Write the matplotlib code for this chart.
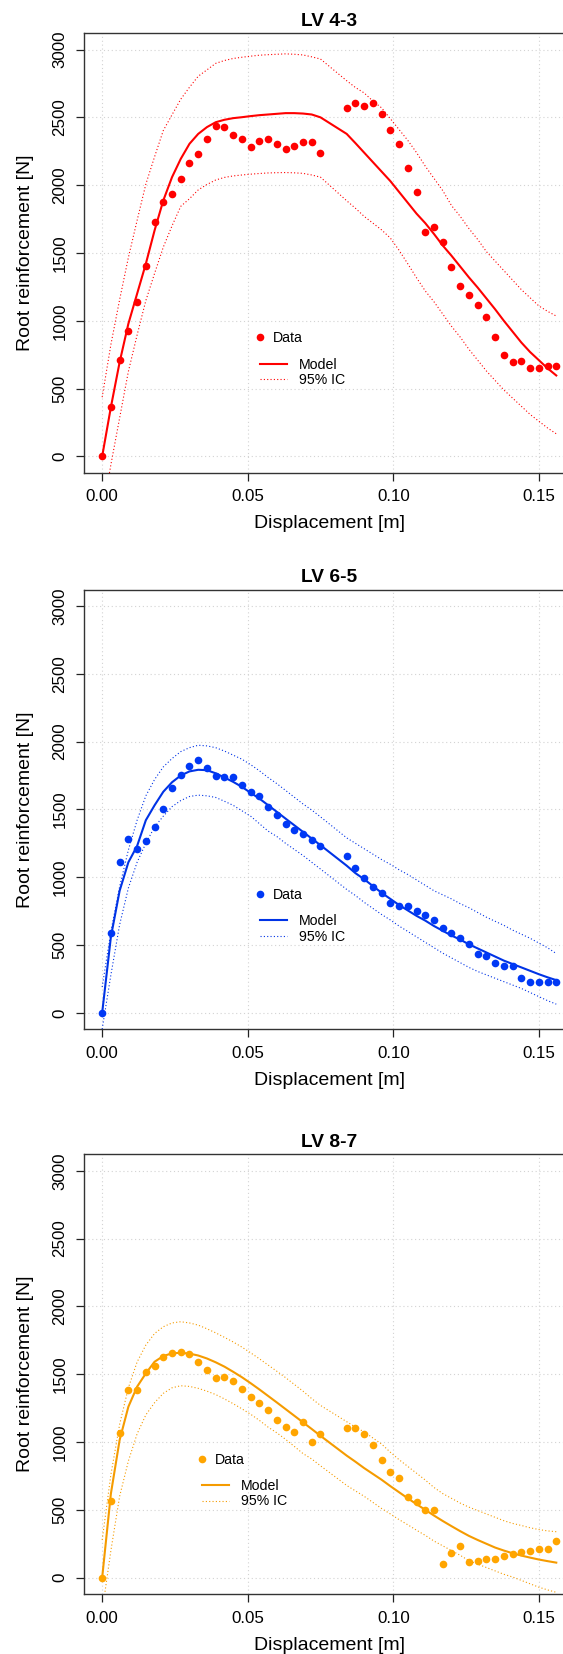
import matplotlib
matplotlib.use("Agg")
import matplotlib.pyplot as plt
from matplotlib.lines import Line2D

plt.rcParams['font.family'] = ['Liberation Sans', 'DejaVu Sans']

# displacement [m] of the measured points (same for the three tests)
disp = [0.000, 0.003, 0.006, 0.009, 0.012, 0.015, 0.018, 0.021, 0.024, 0.027,
        0.030, 0.033, 0.036, 0.039, 0.042, 0.045, 0.048, 0.051, 0.054, 0.057,
        0.060, 0.063, 0.066, 0.069, 0.072, 0.075,
        0.084, 0.087, 0.090, 0.093, 0.096, 0.099, 0.102, 0.105, 0.108, 0.111,
        0.114, 0.117, 0.120, 0.123, 0.126, 0.129, 0.132, 0.135, 0.138, 0.141,
        0.144, 0.147, 0.150, 0.153, 0.156]

titles = ["LV 4-3", "LV 6-5", "LV 8-7"]
colors = ["#ff0000", "#0038f5", "#ffa500"]
line_colors = ["#ff0000", "#0033e6", "#f59b00"]

# LV 4-3
data_43 = [0, 366, 710, 926, 1140, 1403, 1730, 1877, 1934, 2042,
           2162, 2231, 2339, 2435, 2432, 2371, 2342, 2280, 2329, 2342,
           2300, 2270, 2292, 2317, 2315, 2236,
           2572, 2604, 2580, 2604, 2521, 2408, 2305, 2123, 1948, 1658,
           1690, 1582, 1398, 1255, 1192, 1120, 1029, 880, 747, 695,
           700, 654, 651, 668, 668]
model_43 = [0, 364, 695, 978, 1199, 1420, 1666, 1887, 2059, 2194,
            2305, 2378, 2428, 2464, 2482, 2494, 2501, 2509, 2516, 2521,
            2526, 2531, 2531, 2528, 2521, 2500,
            2378, 2310, 2240, 2170, 2100, 2030, 1950, 1870, 1790, 1720,
            1640, 1555, 1480, 1400, 1320, 1245, 1165, 1085, 1000, 920,
            840, 770, 710, 650, 597]
upper_43 = [437, 825, 1156, 1466, 1740, 2007, 2209, 2403, 2519, 2634,
            2722, 2803, 2850, 2898, 2919, 2934, 2943, 2951, 2958, 2962,
            2965, 2968, 2965, 2960, 2946, 2930,
            2770, 2720, 2680, 2620, 2570, 2490, 2410, 2330, 2240, 2140,
            2050, 1960, 1850, 1770, 1680, 1600, 1510, 1440, 1370, 1300,
            1230, 1170, 1110, 1070, 1035]
lower_43 = [-437, -60, 284, 626, 895, 1149, 1349, 1543, 1700, 1844,
            1900, 1965, 2005, 2038, 2057, 2068, 2075, 2081, 2086, 2090,
            2092, 2093, 2091, 2087, 2075, 2059,
            1885, 1830, 1770, 1720, 1670, 1610, 1520, 1420, 1317, 1220,
            1140, 1050, 960, 880, 790, 710, 630, 560, 490, 430,
            370, 310, 260, 210, 167]

# LV 6-5
data_65 = [0, 587, 1113, 1278, 1206, 1268, 1369, 1504, 1654, 1757,
           1823, 1867, 1806, 1749, 1737, 1737, 1683, 1629, 1600, 1521,
           1457, 1391, 1346, 1322, 1275, 1233,
           1160, 1066, 995, 926, 882, 813, 786, 786, 754, 720,
           685, 624, 585, 553, 511, 437, 418, 364, 344, 344,
           260, 224, 224, 224, 224]
model_65 = [0, 560, 900, 1110, 1230, 1420, 1530, 1630, 1700, 1750,
            1780, 1792, 1789, 1766, 1735, 1703, 1666, 1622, 1580, 1531,
            1482, 1432, 1383, 1334, 1285, 1236,
            1085, 1030, 985, 935, 885, 840, 795, 755, 715, 680,
            640, 605, 570, 540, 505, 475, 445, 415, 385, 360,
            335, 310, 285, 262, 241]
upper_65 = [190, 600, 930, 1200, 1420, 1600, 1720, 1813, 1875, 1926,
            1955, 1973, 1968, 1955, 1930, 1900, 1870, 1830, 1785, 1735,
            1690, 1640, 1590, 1540, 1495, 1445,
            1290, 1250, 1210, 1170, 1130, 1095, 1055, 1020, 980, 940,
            900, 870, 840, 805, 775, 740, 705, 675, 645, 610,
            580, 550, 515, 480, 437]
lower_65 = [-120, 280, 650, 920, 1110, 1250, 1370, 1450, 1520, 1565,
            1595, 1605, 1600, 1588, 1560, 1530, 1490, 1450, 1395, 1340,
            1300, 1250, 1205, 1160, 1110, 1060,
            910, 865, 815, 770, 725, 685, 640, 600, 560, 520,
            480, 440, 405, 370, 335, 305, 280, 255, 230, 205,
            180, 150, 120, 90, 64]

# LV 8-7
data_87 = [0, 568, 1064, 1386, 1386, 1518, 1558, 1627, 1656, 1663,
           1649, 1592, 1531, 1472, 1479, 1450, 1391, 1332, 1285, 1233,
           1162, 1113, 1074, 1145, 998, 1059,
           1101, 1103, 1061, 980, 870, 781, 732, 595, 555, 499,
           499, 98, 182, 233, 115, 123, 138, 138, 160, 177,
           189, 197, 214, 214, 273]
model_87 = [0, 620, 1015, 1260, 1408, 1506, 1592, 1634, 1654, 1658,
            1652, 1638, 1616, 1588, 1556, 1518, 1478, 1434, 1388, 1340,
            1292, 1243, 1194, 1145, 1096, 1046,
            900, 855, 808, 765, 722, 675, 630, 585, 542, 500,
            458, 418, 380, 343, 308, 278, 250, 222, 200, 180,
            163, 148, 134, 122, 111]
upper_87 = [278, 760, 1130, 1400, 1590, 1715, 1800, 1850, 1878, 1887,
            1878, 1862, 1835, 1805, 1772, 1738, 1700, 1658, 1614, 1568,
            1522, 1475, 1425, 1375, 1320, 1270,
            1150, 1110, 1075, 1030, 985, 925, 870, 820, 770, 720,
            665, 620, 585, 550, 520, 495, 470, 445, 420, 400,
            385, 368, 355, 345, 339]
lower_87 = [-250, 200, 600, 860, 1060, 1200, 1290, 1359, 1400, 1415,
            1410, 1396, 1375, 1350, 1318, 1283, 1245, 1205, 1160, 1110,
            1068, 1020, 968, 915, 875, 825,
            680, 640, 600, 555, 510, 470, 428, 390, 350, 312,
            270, 235, 200, 165, 125, 100, 75, 50, 25, 5,
            -20, -45, -70, -90, -108]

series = [(data_43, model_43, upper_43, lower_43),
          (data_65, model_65, upper_65, lower_65),
          (data_87, model_87, upper_87, lower_87)]

x_ticks = [0.00, 0.05, 0.10, 0.15]
y_ticks = [0, 500, 1000, 1500, 2000, 2500, 3000]

# panel placement (figure fractions), the right side runs past the figure edge
bottoms = [0.7142, 0.3778, 0.0363]
legend_dx = [0.0, 0.0, -0.1183]

fig = plt.figure(figsize=(5.63, 16.54), dpi=100)

for i in range(3):
    data, model, upper, lower = series[i]
    c, lc = colors[i], line_colors[i]
    ax = fig.add_axes([0.1492, bottoms[i], 0.8711, 0.2657])

    ax.grid(True, color='#d3d3d3', linestyle=(0, (1, 2.5)), linewidth=0.8)
    ax.set_axisbelow(True)

    ax.plot(disp, upper, color=lc, linestyle=(0, (1, 2)), linewidth=0.8)
    ax.plot(disp, lower, color=lc, linestyle=(0, (1, 2)), linewidth=0.8)
    ax.plot(disp, model, color=lc, linewidth=1.5)
    ax.plot(disp, data, 'o', color=c, markersize=5.5, markeredgewidth=0)

    ax.set_xlim(-0.00624, 0.16224)
    ax.set_ylim(-120, 3120)
    ax.set_xticks(x_ticks)
    ax.set_xticklabels(["%.2f" % t for t in x_ticks])
    ax.set_yticks(y_ticks)
    ax.set_yticklabels([str(t) for t in y_ticks])
    plt.setp(ax.get_yticklabels(), rotation=90, va='center')
    ax.tick_params(labelsize=12.2, length=5.5, width=0.9, color='#222222', pad=6.5)
    for sp in ax.spines.values():
        sp.set_color('#333333')
        sp.set_linewidth(1.0)

    ax.set_title(titles[i], fontsize=13.8, fontweight='bold', pad=5.5)
    ax.set_xlabel("Displacement [m]", fontsize=14, labelpad=8)
    ax.set_ylabel("Root reinforcement [N]", fontsize=14, labelpad=13)

    h_data = [Line2D([], [], marker='o', linestyle='none', color=c,
                     markersize=5.5, markeredgewidth=0)]
    leg1 = ax.legend(h_data, ["Data"], loc='center left',
                     bbox_to_anchor=(0.3441 + legend_dx[i], 0.3059),
                     frameon=False, fontsize=10.2, handlelength=1.0,
                     handletextpad=0.45, borderpad=0, borderaxespad=0)
    ax.add_artist(leg1)
    h_lines = [Line2D([], [], color=lc, linewidth=1.5),
               Line2D([], [], color=lc, linestyle=(0, (1, 2)), linewidth=0.8)]
    ax.legend(h_lines, ["Model", "95% IC"], loc='center left',
              bbox_to_anchor=(0.3589 + legend_dx[i], 0.2280),
              frameon=False, fontsize=10.2, handlelength=1.88,
              handletextpad=0.85, borderpad=0, borderaxespad=0,
              labelspacing=0.1)

fig.savefig("out.png", dpi=100)
